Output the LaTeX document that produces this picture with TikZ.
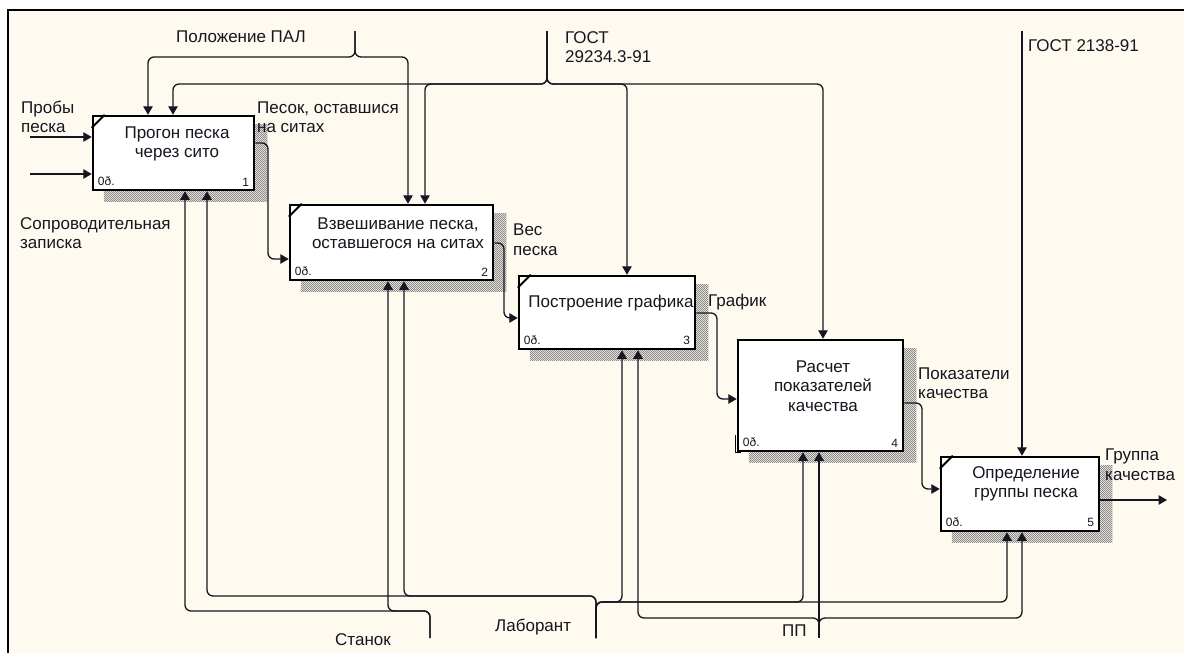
\documentclass[tikz,border=0pt]{standalone}
\usepackage{fontspec}
\setmainfont{Liberation Sans}
\usetikzlibrary{arrows.meta,patterns.meta}
\definecolor{paper}{RGB}{255,250,239}
\definecolor{ink}{RGB}{22,22,32}
\pgfdeclarelayer{back}
\pgfdeclarelayer{shade}
\pgfsetlayers{back,shade,main}
% fine checkered fill for the box shadows
\tikzdeclarepattern{
  name=shadecheck,
  type=uncolored,
  bottom left={(-.1pt,-.1pt)},
  top right={(2.1pt,2.1pt)},
  tile size={(2pt,2pt)},
  code={
    \pgfpathrectangle{\pgfpoint{0pt}{0pt}}{\pgfpoint{1pt}{1pt}}
    \pgfpathrectangle{\pgfpoint{1pt}{1pt}}{\pgfpoint{1pt}{1pt}}
    \pgfusepath{fill}
  }
}
\begin{document}
\begin{tikzpicture}[x=1pt,y=-1pt,
  flow/.style={draw=ink,line width=1.3pt,rounded corners=6pt,-{Triangle[length=8.5pt,width=9.5pt]}},
  box/.style={draw=black,line width=2.5pt,fill=white,inner sep=0pt,rectangle},
  lbl/.style={inner sep=0pt,align=left,anchor=west,font=\fontsize{17}{19.5}\selectfont,text=ink},
  boxtext/.style={inner sep=0pt,align=center,font=\fontsize{17}{19.5}\selectfont,text=ink},
  tag/.style={inner sep=0pt,font=\fontsize{12}{13}\selectfont,text=ink},
  shadow/.style={pattern=shadecheck,pattern color=black!45},
]
\useasboundingbox (0,0) rectangle (1184,653);

% page and diagram frame
\begin{pgfonlayer}{back}
  \fill[white] (0,0) rectangle (1184,653);
  \fill[paper] (8,10) rectangle (1184,653);
  \draw[line width=1.5pt] (8,653) -- (8,10) -- (1184,10);
\end{pgfonlayer}

% activity boxes
\node[box,minimum width=161pt,minimum height=74pt]  (b1) at (173.5,153)   {};
\node[box,minimum width=203pt,minimum height=75pt]  (b2) at (391.5,242.5) {};
\node[box,minimum width=176pt,minimum height=73pt]  (b3) at (607,312.5)   {};
\node[box,minimum width=165pt,minimum height=111pt] (b4) at (820.5,395.5) {};
\node[box,minimum width=158pt,minimum height=74pt]  (b5) at (1020,494)    {};

% shadows
\begin{pgfonlayer}{shade}
  \foreach \b in {b1,b2,b3,b4,b5}
    \fill[shadow] ([shift={(12pt,-10pt)}]\b.south west) rectangle ([shift={(12pt,-10pt)}]\b.north east);
\end{pgfonlayer}

% corner marks
\foreach \b in {b1,b2,b3,b5}
  \draw[line width=2pt] ([yshift=-13pt]\b.north west) -- ([xshift=13pt]\b.north west);
\draw[line width=1pt] (735.5,435) -- (735.5,452.5) -- (741,452.5);

% box titles
\node[boxtext] (t1) at (177,144)  {Прогон песка\\через сито};
\node[boxtext] (t2) at (398,233)  {Взвешивание песка,\\оставшегося на ситах};
\node[boxtext] (t3) at (611,303)  {Построение графика};
\node[boxtext] (t4) at (823,386)  {Расчет\\показателей\\качества};
\node[boxtext] (t5) at (1026,484) {Определение\\группы песка};

% cost and number tags
\foreach \b/\n in {b1/1,b2/2,b3/3,b4/4,b5/5}{
  \node[tag,anchor=south west] at ([shift={(6pt,5pt)}]\b.south west) {0ð.};
  \node[tag,anchor=south east] at ([shift={(-6pt,5pt)}]\b.south east) {\n};
}

% free ends and junctions
\coordinate (in1) at (30,137);
\coordinate (in2) at (30,174);
\coordinate (pal) at (355,31);
\coordinate (g1)  at (547,31);
\coordinate (g2)  at (1022,31);
\coordinate (out5) at (1167,500);
\coordinate (st)  at (430,638);
\coordinate (lab) at (596,638);
\coordinate (pp)  at (819,638);
\coordinate (ppj) at (819,624);

% inputs
\draw[flow] (in1) -- (b1.west |- in1);
\draw[flow] (in2) -- (b1.west |- in2);

% controls
\draw[flow] (pal) -- (355,57) -| (b1.north -| 148,0);
\draw[flow] (pal) -- (355,57) -| (b2.north -| 408,0);
\draw[flow] (g1) -- (547,84) -| (b1.north -| 173,0);
\draw[flow] (g1) -- (547,84) -| (b2.north -| 425,0);
\draw[flow] (g1) -- (547,84) -| (b3.north -| 627,0);
\draw[flow] (g1) -- (547,84) -| (b4.north -| 823,0);
\draw[flow] (g2) -- (b5.north -| g2);

% outputs
\draw[flow] (b1.east |- 0,143) -- (268,143) |- (b2.west |- 0,259);
\draw[flow] (b2.east |- 0,243) -- (504,243) |- (b3.west |- 0,318);
\draw[flow] (b3.east |- 0,313) -- (717,313) |- (b4.west |- 0,399);
\draw[flow] (b4.east |- 0,403) -- (922,403) |- (b5.west |- 0,489);
\draw[flow] (b5.east |- out5) -- (out5);

% mechanisms
\draw[flow] (st) -- (430,611) -| (b1.south -| 185,0);
\draw[flow] (st) -- (430,611) -| (b2.south -| 388,0);
\draw[flow] (lab) -- (596,596) -| (b1.south -| 207,0);
\draw[flow] (lab) -- (596,596) -| (b2.south -| 404,0);
\draw[flow] (lab) -- (596,602) -| (b3.south -| 622,0);
\draw[flow] (lab) -- (596,602) -| (b4.south -| 803,0);
\draw[flow] (lab) -- (596,602) -| (b5.south -| 1007,0);
\draw[flow] (pp) -- (b4.south -| pp);
\draw[flow] (ppj) -- (819,618) -| (b3.south -| 638,0);
\draw[flow] (ppj) -- (819,618) -| (b5.south -| 1022,0);

% arrow labels
\node[lbl] (lpal) at (176,37)    {Положение ПАЛ};
\node[lbl] (lg1)  at (565,47)    {ГОСТ\\29234.3-91};
\node[lbl] (lg2)  at (1028,46)   {ГОСТ 2138-91};
\node[lbl] (lin1) at (21,117)    {Пробы\\песка};
\node[lbl] (lin2) at (20,233)    {Сопроводительная\\записка};
\node[lbl] (lo1)  at (257,117)   {Песок, оставшися\\на ситах};
\node[lbl] (lo2)  at (513,239.5) {Вес\\песка};
\node[lbl] (lo3)  at (708,302)   {График};
\node[lbl] (lo4)  at (918,383)   {Показатели\\качества};
\node[lbl] (lo5)  at (1105,464.5){Группа\\качества};
\node[lbl] (lst)  at (335,640)   {Станок};
\node[lbl] (llab) at (495,627)   {Лаборант};
\node[lbl] (lpp)  at (782,631)   {ПП};
\end{tikzpicture}
\end{document}
